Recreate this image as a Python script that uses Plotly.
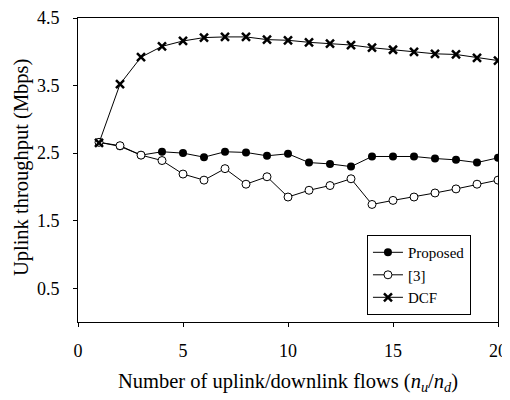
import plotly.graph_objects as go

flows = list(range(1, 21))
proposed = [2.66, 2.60, 2.47, 2.52, 2.50, 2.44, 2.52, 2.51, 2.46, 2.49, 2.36, 2.34, 2.30, 2.45, 2.45, 2.45, 2.42, 2.40, 2.36, 2.43]
ref3 = [2.66, 2.61, 2.47, 2.39, 2.19, 2.10, 2.27, 2.04, 2.15, 1.85, 1.95, 2.02, 2.12, 1.74, 1.80, 1.85, 1.91, 1.97, 2.04, 2.10]
dcf = [2.65, 3.52, 3.92, 4.08, 4.16, 4.21, 4.22, 4.22, 4.18, 4.17, 4.14, 4.12, 4.10, 4.06, 4.03, 4.00, 3.97, 3.96, 3.91, 3.87]
x_ticks = [0, 5, 10, 15, 20]
y_ticks = [0.5, 1.5, 2.5, 3.5, 4.5]

FONT = "Liberation Serif"
fig = go.Figure()
fig.add_trace(go.Scatter(x=flows, y=proposed, name="Proposed", mode="lines+markers",
                         line=dict(color="black", width=1),
                         marker=dict(symbol="circle", size=8, color="black")))
fig.add_trace(go.Scatter(x=flows, y=ref3, name="[3]", mode="lines+markers",
                         line=dict(color="black", width=1),
                         marker=dict(symbol="circle", size=8, color="white", line=dict(color="black", width=1))))
fig.add_trace(go.Scatter(x=flows, y=dcf, name="DCF", mode="lines+markers",
                         line=dict(color="black", width=1),
                         marker=dict(symbol="x-thin", size=8, color="black", line=dict(color="black", width=2.5))))

# page body has an 8px default margin, so the figure is sized 8px smaller
fig.update_layout(
    width=502, height=392,
    margin=dict(l=70, r=12, t=10, b=78),
    paper_bgcolor="white", plot_bgcolor="white",
    font=dict(family=FONT, size=18, color="black"),
    showlegend=True,
    legend=dict(x=0.688, y=0.286, xanchor="left", yanchor="top",
                bordercolor="black", borderwidth=1, bgcolor="white",
                font=dict(family=FONT, size=15, color="black"),
                tracegroupgap=0, itemwidth=30),
    xaxis=dict(range=[0, 20], tickvals=x_ticks, ticktext=[str(v) for v in x_ticks],
               showgrid=False, zeroline=False, showline=True, linecolor="black", linewidth=1,
               mirror=True, ticks="outside", ticklen=4, tickcolor="black",
               automargin=False, ticklabelstandoff=8,
               tickfont=dict(family=FONT, size=18)),
    yaxis=dict(range=[0, 4.5], tickvals=y_ticks, ticktext=[str(v) for v in y_ticks],
               showgrid=False, zeroline=False, showline=True, linecolor="black", linewidth=1,
               mirror=True, ticks="outside", ticklen=4, tickcolor="black",
               automargin=False, ticklabelstandoff=10,
               tickfont=dict(family=FONT, size=18)),
    annotations=[
        dict(text="Number of uplink/downlink flows (<i>n</i><sub><i>u</i></sub>/<i>n</i><sub><i>d</i></sub>)",
             xref="paper", yref="paper", x=0.5, y=-0.2, xanchor="center", yanchor="middle",
             showarrow=False, font=dict(family=FONT, size=20.5)),
        dict(text="Uplink throughput (Mbps)", textangle=-90,
             xref="paper", yref="paper", x=-0.133, y=0.51, xanchor="center", yanchor="middle",
             showarrow=False, font=dict(family=FONT, size=20.5)),
    ],
)
fig.write_html("out.html")
